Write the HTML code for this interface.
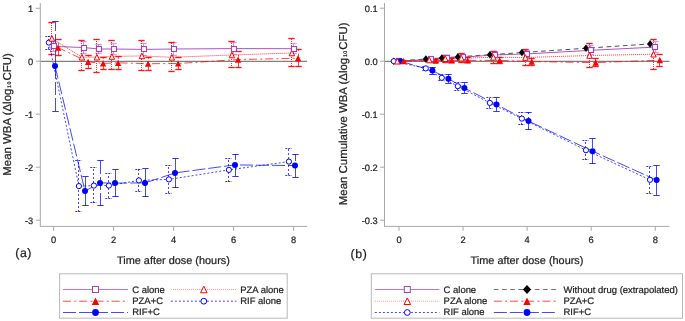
<!DOCTYPE html>
<html><head><meta charset="utf-8"><title>WBA chart</title>
<style>html,body{margin:0;padding:0;background:#fff;width:685px;height:321px;overflow:hidden}svg{display:block;will-change:transform}text{stroke:#1e1e1e;stroke-width:.22px}</style>
</head><body>
<svg width="685" height="321" viewBox="0 0 685 321" text-rendering="geometricPrecision" font-family='"Liberation Sans", sans-serif'>
<rect width="685" height="321" fill="#fff"/>
<line x1="40.3" y1="61.3" x2="307" y2="61.3" stroke="#808080" stroke-width="1.3"/>
<line x1="53.5" y1="51" x2="53.5" y2="41" stroke="#a044b8" stroke-width="1" stroke-opacity="0.5"/>
<line x1="50.3" y1="41.5" x2="56.7" y2="41.5" stroke="#a044b8" stroke-width="1.35" stroke-opacity="0.5"/>
<line x1="50.3" y1="51.5" x2="56.7" y2="51.5" stroke="#a044b8" stroke-width="1.35" stroke-opacity="0.5"/>
<line x1="83.5" y1="54" x2="83.5" y2="42" stroke="#a044b8" stroke-width="1" stroke-opacity="0.5"/>
<line x1="80.3" y1="41.5" x2="86.7" y2="41.5" stroke="#a044b8" stroke-width="1.35" stroke-opacity="0.5"/>
<line x1="80.3" y1="53.5" x2="86.7" y2="53.5" stroke="#a044b8" stroke-width="1.35" stroke-opacity="0.5"/>
<line x1="98.5" y1="54" x2="98.5" y2="44" stroke="#a044b8" stroke-width="1" stroke-opacity="0.5"/>
<line x1="95.3" y1="44.5" x2="101.7" y2="44.5" stroke="#a044b8" stroke-width="1.35" stroke-opacity="0.5"/>
<line x1="95.3" y1="53.5" x2="101.7" y2="53.5" stroke="#a044b8" stroke-width="1.35" stroke-opacity="0.5"/>
<line x1="113.5" y1="54" x2="113.5" y2="44" stroke="#a044b8" stroke-width="1" stroke-opacity="0.5"/>
<line x1="110.3" y1="43.5" x2="116.7" y2="43.5" stroke="#a044b8" stroke-width="1.35" stroke-opacity="0.5"/>
<line x1="110.3" y1="54.5" x2="116.7" y2="54.5" stroke="#a044b8" stroke-width="1.35" stroke-opacity="0.5"/>
<line x1="143.5" y1="55" x2="143.5" y2="44" stroke="#a044b8" stroke-width="1" stroke-opacity="0.5"/>
<line x1="140.3" y1="43.5" x2="146.7" y2="43.5" stroke="#a044b8" stroke-width="1.35" stroke-opacity="0.5"/>
<line x1="140.3" y1="55.5" x2="146.7" y2="55.5" stroke="#a044b8" stroke-width="1.35" stroke-opacity="0.5"/>
<line x1="173.5" y1="56" x2="173.5" y2="42" stroke="#a044b8" stroke-width="1" stroke-opacity="0.5"/>
<line x1="170.3" y1="42.5" x2="176.7" y2="42.5" stroke="#a044b8" stroke-width="1.35" stroke-opacity="0.5"/>
<line x1="170.3" y1="55.5" x2="176.7" y2="55.5" stroke="#a044b8" stroke-width="1.35" stroke-opacity="0.5"/>
<line x1="233.5" y1="54" x2="233.5" y2="43" stroke="#a044b8" stroke-width="1" stroke-opacity="0.5"/>
<line x1="230.3" y1="42.5" x2="236.7" y2="42.5" stroke="#a044b8" stroke-width="1.35" stroke-opacity="0.5"/>
<line x1="230.3" y1="54.5" x2="236.7" y2="54.5" stroke="#a044b8" stroke-width="1.35" stroke-opacity="0.5"/>
<line x1="293.5" y1="54" x2="293.5" y2="44" stroke="#a044b8" stroke-width="1" stroke-opacity="0.5"/>
<line x1="290.3" y1="43.5" x2="296.7" y2="43.5" stroke="#a044b8" stroke-width="1.35" stroke-opacity="0.5"/>
<line x1="290.3" y1="53.5" x2="296.7" y2="53.5" stroke="#a044b8" stroke-width="1.35" stroke-opacity="0.5"/>
<polyline points="53.6,46.4 83.6,47.5 98.6,49 113.6,49 143.6,49.4 173.6,49 233.6,48.6 293.6,48.7" fill="none" stroke="#a044b8" stroke-width="1" stroke-opacity="0.9"/>
<line x1="51.5" y1="54" x2="51.5" y2="23" stroke="#ff0000" stroke-width="1" stroke-dasharray="1 1" stroke-opacity="0.8"/>
<line x1="48.3" y1="22.5" x2="54.7" y2="22.5" stroke="#ff0000" stroke-width="1.35" stroke-opacity="0.9"/>
<line x1="48.3" y1="54.5" x2="54.7" y2="54.5" stroke="#ff0000" stroke-width="1.35" stroke-opacity="0.9"/>
<line x1="81.5" y1="70" x2="81.5" y2="41" stroke="#ff0000" stroke-width="1" stroke-dasharray="1 1" stroke-opacity="0.8"/>
<line x1="78.3" y1="40.5" x2="84.7" y2="40.5" stroke="#ff0000" stroke-width="1.35" stroke-opacity="0.9"/>
<line x1="78.3" y1="70.5" x2="84.7" y2="70.5" stroke="#ff0000" stroke-width="1.35" stroke-opacity="0.9"/>
<line x1="96.5" y1="72" x2="96.5" y2="39" stroke="#ff0000" stroke-width="1" stroke-dasharray="1 1" stroke-opacity="0.8"/>
<line x1="93.3" y1="39.5" x2="99.7" y2="39.5" stroke="#ff0000" stroke-width="1.35" stroke-opacity="0.9"/>
<line x1="93.3" y1="72.5" x2="99.7" y2="72.5" stroke="#ff0000" stroke-width="1.35" stroke-opacity="0.9"/>
<line x1="111.5" y1="69" x2="111.5" y2="41" stroke="#ff0000" stroke-width="1" stroke-dasharray="1 1" stroke-opacity="0.8"/>
<line x1="108.3" y1="40.5" x2="114.7" y2="40.5" stroke="#ff0000" stroke-width="1.35" stroke-opacity="0.9"/>
<line x1="108.3" y1="69.5" x2="114.7" y2="69.5" stroke="#ff0000" stroke-width="1.35" stroke-opacity="0.9"/>
<line x1="141.5" y1="70" x2="141.5" y2="41" stroke="#ff0000" stroke-width="1" stroke-dasharray="1 1" stroke-opacity="0.8"/>
<line x1="138.3" y1="40.5" x2="144.7" y2="40.5" stroke="#ff0000" stroke-width="1.35" stroke-opacity="0.9"/>
<line x1="138.3" y1="70.5" x2="144.7" y2="70.5" stroke="#ff0000" stroke-width="1.35" stroke-opacity="0.9"/>
<line x1="171.5" y1="72" x2="171.5" y2="42" stroke="#ff0000" stroke-width="1" stroke-dasharray="1 1" stroke-opacity="0.8"/>
<line x1="168.3" y1="42.5" x2="174.7" y2="42.5" stroke="#ff0000" stroke-width="1.35" stroke-opacity="0.9"/>
<line x1="168.3" y1="71.5" x2="174.7" y2="71.5" stroke="#ff0000" stroke-width="1.35" stroke-opacity="0.9"/>
<line x1="231.5" y1="68" x2="231.5" y2="41" stroke="#ff0000" stroke-width="1" stroke-dasharray="1 1" stroke-opacity="0.8"/>
<line x1="228.3" y1="41.5" x2="234.7" y2="41.5" stroke="#ff0000" stroke-width="1.35" stroke-opacity="0.9"/>
<line x1="228.3" y1="67.5" x2="234.7" y2="67.5" stroke="#ff0000" stroke-width="1.35" stroke-opacity="0.9"/>
<line x1="291.5" y1="66" x2="291.5" y2="39" stroke="#ff0000" stroke-width="1" stroke-dasharray="1 1" stroke-opacity="0.8"/>
<line x1="288.3" y1="38.5" x2="294.7" y2="38.5" stroke="#ff0000" stroke-width="1.35" stroke-opacity="0.9"/>
<line x1="288.3" y1="66.5" x2="294.7" y2="66.5" stroke="#ff0000" stroke-width="1.35" stroke-opacity="0.9"/>
<polyline points="51.9,38.4 81.9,57.2 96.9,57.2 111.9,56.5 141.9,55.9 171.9,57.3 231.9,55 291.9,53" fill="none" stroke="#ff0000" stroke-width="1" stroke-dasharray="1 1" stroke-opacity="0.8"/>
<line x1="58.5" y1="56" x2="58.5" y2="40" stroke="#ff0000" stroke-width="1" stroke-dasharray="8 3.3 2 2.9" stroke-opacity="0.72"/>
<line x1="55.3" y1="39.5" x2="61.7" y2="39.5" stroke="#ff0000" stroke-width="1.35" stroke-opacity="0.9"/>
<line x1="55.3" y1="55.5" x2="61.7" y2="55.5" stroke="#ff0000" stroke-width="1.35" stroke-opacity="0.9"/>
<line x1="88.5" y1="68" x2="88.5" y2="55" stroke="#ff0000" stroke-width="1" stroke-dasharray="8 3.3 2 2.9" stroke-opacity="0.72"/>
<line x1="85.3" y1="55.5" x2="91.7" y2="55.5" stroke="#ff0000" stroke-width="1.35" stroke-opacity="0.9"/>
<line x1="85.3" y1="68.5" x2="91.7" y2="68.5" stroke="#ff0000" stroke-width="1.35" stroke-opacity="0.9"/>
<line x1="103.5" y1="70" x2="103.5" y2="57" stroke="#ff0000" stroke-width="1" stroke-dasharray="8 3.3 2 2.9" stroke-opacity="0.72"/>
<line x1="100.3" y1="57.5" x2="106.7" y2="57.5" stroke="#ff0000" stroke-width="1.35" stroke-opacity="0.9"/>
<line x1="100.3" y1="69.5" x2="106.7" y2="69.5" stroke="#ff0000" stroke-width="1.35" stroke-opacity="0.9"/>
<line x1="118.5" y1="70" x2="118.5" y2="56" stroke="#ff0000" stroke-width="1" stroke-dasharray="8 3.3 2 2.9" stroke-opacity="0.72"/>
<line x1="115.3" y1="56.5" x2="121.7" y2="56.5" stroke="#ff0000" stroke-width="1.35" stroke-opacity="0.9"/>
<line x1="115.3" y1="69.5" x2="121.7" y2="69.5" stroke="#ff0000" stroke-width="1.35" stroke-opacity="0.9"/>
<line x1="148.5" y1="70" x2="148.5" y2="57" stroke="#ff0000" stroke-width="1" stroke-dasharray="8 3.3 2 2.9" stroke-opacity="0.72"/>
<line x1="145.3" y1="57.5" x2="151.7" y2="57.5" stroke="#ff0000" stroke-width="1.35" stroke-opacity="0.9"/>
<line x1="145.3" y1="70.5" x2="151.7" y2="70.5" stroke="#ff0000" stroke-width="1.35" stroke-opacity="0.9"/>
<line x1="178.5" y1="69" x2="178.5" y2="58" stroke="#ff0000" stroke-width="1" stroke-dasharray="8 3.3 2 2.9" stroke-opacity="0.72"/>
<line x1="175.3" y1="57.5" x2="181.7" y2="57.5" stroke="#ff0000" stroke-width="1.35" stroke-opacity="0.9"/>
<line x1="175.3" y1="69.5" x2="181.7" y2="69.5" stroke="#ff0000" stroke-width="1.35" stroke-opacity="0.9"/>
<line x1="238.5" y1="68" x2="238.5" y2="52" stroke="#ff0000" stroke-width="1" stroke-dasharray="8 3.3 2 2.9" stroke-opacity="0.72"/>
<line x1="235.3" y1="51.5" x2="241.7" y2="51.5" stroke="#ff0000" stroke-width="1.35" stroke-opacity="0.9"/>
<line x1="235.3" y1="67.5" x2="241.7" y2="67.5" stroke="#ff0000" stroke-width="1.35" stroke-opacity="0.9"/>
<line x1="298.5" y1="67" x2="298.5" y2="50" stroke="#ff0000" stroke-width="1" stroke-dasharray="8 3.3 2 2.9" stroke-opacity="0.72"/>
<line x1="295.3" y1="49.5" x2="301.7" y2="49.5" stroke="#ff0000" stroke-width="1.35" stroke-opacity="0.9"/>
<line x1="295.3" y1="66.5" x2="301.7" y2="66.5" stroke="#ff0000" stroke-width="1.35" stroke-opacity="0.9"/>
<polyline points="58.1,47.6 88.1,61.9 103.1,63.4 118.1,62.8 148.1,63.7 178.1,63.5 238.1,59.6 298.1,58.2" fill="none" stroke="#ff0000" stroke-width="1" stroke-dasharray="8 3.3 2 2.9" stroke-opacity="0.72"/>
<line x1="48.5" y1="49" x2="48.5" y2="36" stroke="#0000ff" stroke-width="1" stroke-dasharray="2 2" stroke-opacity="0.72"/>
<line x1="45.3" y1="36.5" x2="51.7" y2="36.5" stroke="#0000ff" stroke-width="1.0" stroke-dasharray="2 1" stroke-opacity="0.8"/>
<line x1="45.3" y1="49.5" x2="51.7" y2="49.5" stroke="#0000ff" stroke-width="1.0" stroke-dasharray="2 1" stroke-opacity="0.8"/>
<line x1="78.5" y1="212" x2="78.5" y2="160" stroke="#0000ff" stroke-width="1" stroke-dasharray="2 2" stroke-opacity="0.72"/>
<line x1="75.3" y1="160.5" x2="81.7" y2="160.5" stroke="#0000ff" stroke-width="1.0" stroke-dasharray="2 1" stroke-opacity="0.8"/>
<line x1="75.3" y1="211.5" x2="81.7" y2="211.5" stroke="#0000ff" stroke-width="1.0" stroke-dasharray="2 1" stroke-opacity="0.8"/>
<line x1="93.5" y1="203" x2="93.5" y2="168" stroke="#0000ff" stroke-width="1" stroke-dasharray="2 2" stroke-opacity="0.72"/>
<line x1="90.3" y1="167.5" x2="96.7" y2="167.5" stroke="#0000ff" stroke-width="1.0" stroke-dasharray="2 1" stroke-opacity="0.8"/>
<line x1="90.3" y1="202.5" x2="96.7" y2="202.5" stroke="#0000ff" stroke-width="1.0" stroke-dasharray="2 1" stroke-opacity="0.8"/>
<line x1="108.5" y1="198" x2="108.5" y2="174" stroke="#0000ff" stroke-width="1" stroke-dasharray="2 2" stroke-opacity="0.72"/>
<line x1="105.3" y1="173.5" x2="111.7" y2="173.5" stroke="#0000ff" stroke-width="1.0" stroke-dasharray="2 1" stroke-opacity="0.8"/>
<line x1="105.3" y1="198.5" x2="111.7" y2="198.5" stroke="#0000ff" stroke-width="1.0" stroke-dasharray="2 1" stroke-opacity="0.8"/>
<line x1="138.5" y1="191" x2="138.5" y2="169" stroke="#0000ff" stroke-width="1" stroke-dasharray="2 2" stroke-opacity="0.72"/>
<line x1="135.3" y1="169.5" x2="141.7" y2="169.5" stroke="#0000ff" stroke-width="1.0" stroke-dasharray="2 1" stroke-opacity="0.8"/>
<line x1="135.3" y1="191.5" x2="141.7" y2="191.5" stroke="#0000ff" stroke-width="1.0" stroke-dasharray="2 1" stroke-opacity="0.8"/>
<line x1="168.5" y1="193" x2="168.5" y2="166" stroke="#0000ff" stroke-width="1" stroke-dasharray="2 2" stroke-opacity="0.72"/>
<line x1="165.3" y1="165.5" x2="171.7" y2="165.5" stroke="#0000ff" stroke-width="1.0" stroke-dasharray="2 1" stroke-opacity="0.8"/>
<line x1="165.3" y1="193.5" x2="171.7" y2="193.5" stroke="#0000ff" stroke-width="1.0" stroke-dasharray="2 1" stroke-opacity="0.8"/>
<line x1="228.5" y1="182" x2="228.5" y2="159" stroke="#0000ff" stroke-width="1" stroke-dasharray="2 2" stroke-opacity="0.72"/>
<line x1="225.3" y1="158.5" x2="231.7" y2="158.5" stroke="#0000ff" stroke-width="1.0" stroke-dasharray="2 1" stroke-opacity="0.8"/>
<line x1="225.3" y1="181.5" x2="231.7" y2="181.5" stroke="#0000ff" stroke-width="1.0" stroke-dasharray="2 1" stroke-opacity="0.8"/>
<line x1="288.5" y1="175" x2="288.5" y2="148" stroke="#0000ff" stroke-width="1" stroke-dasharray="2 2" stroke-opacity="0.72"/>
<line x1="285.3" y1="148.5" x2="291.7" y2="148.5" stroke="#0000ff" stroke-width="1.0" stroke-dasharray="2 1" stroke-opacity="0.8"/>
<line x1="285.3" y1="175.5" x2="291.7" y2="175.5" stroke="#0000ff" stroke-width="1.0" stroke-dasharray="2 1" stroke-opacity="0.8"/>
<polyline points="48.9,42.6 78.9,186.1 93.9,185.6 108.9,185.6 138.9,180.4 168.9,179.4 228.9,169.9 288.9,161.6" fill="none" stroke="#0000ff" stroke-width="1" stroke-dasharray="2 2" stroke-opacity="0.72"/>
<line x1="55.5" y1="111" x2="55.5" y2="22" stroke="#0000ff" stroke-width="1" stroke-dasharray="13 3" stroke-opacity="0.72"/>
<line x1="52.3" y1="21.5" x2="58.7" y2="21.5" stroke="#0000ff" stroke-width="1.0" stroke-opacity="0.8"/>
<line x1="52.3" y1="111.5" x2="58.7" y2="111.5" stroke="#0000ff" stroke-width="1.0" stroke-opacity="0.8"/>
<line x1="85.5" y1="206" x2="85.5" y2="177" stroke="#0000ff" stroke-width="1" stroke-dasharray="13 3" stroke-opacity="0.72"/>
<line x1="82.3" y1="176.5" x2="88.7" y2="176.5" stroke="#0000ff" stroke-width="1.0" stroke-opacity="0.8"/>
<line x1="82.3" y1="205.5" x2="88.7" y2="205.5" stroke="#0000ff" stroke-width="1.0" stroke-opacity="0.8"/>
<line x1="100.5" y1="206" x2="100.5" y2="160" stroke="#0000ff" stroke-width="1" stroke-dasharray="13 3" stroke-opacity="0.72"/>
<line x1="97.3" y1="160.5" x2="103.7" y2="160.5" stroke="#0000ff" stroke-width="1.0" stroke-opacity="0.8"/>
<line x1="97.3" y1="205.5" x2="103.7" y2="205.5" stroke="#0000ff" stroke-width="1.0" stroke-opacity="0.8"/>
<line x1="115.5" y1="197" x2="115.5" y2="170" stroke="#0000ff" stroke-width="1" stroke-dasharray="13 3" stroke-opacity="0.72"/>
<line x1="112.3" y1="169.5" x2="118.7" y2="169.5" stroke="#0000ff" stroke-width="1.0" stroke-opacity="0.8"/>
<line x1="112.3" y1="196.5" x2="118.7" y2="196.5" stroke="#0000ff" stroke-width="1.0" stroke-opacity="0.8"/>
<line x1="145.5" y1="197" x2="145.5" y2="169" stroke="#0000ff" stroke-width="1" stroke-dasharray="13 3" stroke-opacity="0.72"/>
<line x1="142.3" y1="168.5" x2="148.7" y2="168.5" stroke="#0000ff" stroke-width="1.0" stroke-opacity="0.8"/>
<line x1="142.3" y1="196.5" x2="148.7" y2="196.5" stroke="#0000ff" stroke-width="1.0" stroke-opacity="0.8"/>
<line x1="175.5" y1="188" x2="175.5" y2="158" stroke="#0000ff" stroke-width="1" stroke-dasharray="13 3" stroke-opacity="0.72"/>
<line x1="172.3" y1="158.5" x2="178.7" y2="158.5" stroke="#0000ff" stroke-width="1.0" stroke-opacity="0.8"/>
<line x1="172.3" y1="187.5" x2="178.7" y2="187.5" stroke="#0000ff" stroke-width="1.0" stroke-opacity="0.8"/>
<line x1="235.5" y1="176" x2="235.5" y2="154" stroke="#0000ff" stroke-width="1" stroke-dasharray="13 3" stroke-opacity="0.72"/>
<line x1="232.3" y1="154.5" x2="238.7" y2="154.5" stroke="#0000ff" stroke-width="1.0" stroke-opacity="0.8"/>
<line x1="232.3" y1="176.5" x2="238.7" y2="176.5" stroke="#0000ff" stroke-width="1.0" stroke-opacity="0.8"/>
<line x1="295.5" y1="177" x2="295.5" y2="154" stroke="#0000ff" stroke-width="1" stroke-dasharray="13 3" stroke-opacity="0.72"/>
<line x1="292.3" y1="154.5" x2="298.7" y2="154.5" stroke="#0000ff" stroke-width="1.0" stroke-opacity="0.8"/>
<line x1="292.3" y1="177.5" x2="298.7" y2="177.5" stroke="#0000ff" stroke-width="1.0" stroke-opacity="0.8"/>
<polyline points="55,65.9 85,191.1 100,182.9 115,183.1 145,182.9 175,172.9 235,164.9 295,165.6" fill="none" stroke="#0000ff" stroke-width="1" stroke-dasharray="13 3" stroke-opacity="0.72"/>
<circle cx="48.9" cy="42.6" r="2.6" fill="#fff" stroke="#0000ff" stroke-width="1"/>
<circle cx="78.9" cy="186.1" r="2.6" fill="#fff" stroke="#0000ff" stroke-width="1"/>
<circle cx="93.9" cy="185.6" r="2.6" fill="#fff" stroke="#0000ff" stroke-width="1"/>
<circle cx="108.9" cy="185.6" r="2.6" fill="#fff" stroke="#0000ff" stroke-width="1"/>
<circle cx="138.9" cy="180.4" r="2.6" fill="#fff" stroke="#0000ff" stroke-width="1"/>
<circle cx="168.9" cy="179.4" r="2.6" fill="#fff" stroke="#0000ff" stroke-width="1"/>
<circle cx="228.9" cy="169.9" r="2.6" fill="#fff" stroke="#0000ff" stroke-width="1"/>
<circle cx="288.9" cy="161.6" r="2.6" fill="#fff" stroke="#0000ff" stroke-width="1"/>
<polygon points="51.9,35.6 54.6,41.2 49.2,41.2" fill="#fff" stroke="#ff0000" stroke-width="1"/>
<polygon points="81.9,54.4 84.6,60 79.2,60" fill="#fff" stroke="#ff0000" stroke-width="1"/>
<polygon points="96.9,54.4 99.6,60 94.2,60" fill="#fff" stroke="#ff0000" stroke-width="1"/>
<polygon points="111.9,53.7 114.6,59.3 109.2,59.3" fill="#fff" stroke="#ff0000" stroke-width="1"/>
<polygon points="141.9,53.1 144.6,58.7 139.2,58.7" fill="#fff" stroke="#ff0000" stroke-width="1"/>
<polygon points="171.9,54.5 174.6,60.1 169.2,60.1" fill="#fff" stroke="#ff0000" stroke-width="1"/>
<polygon points="231.9,52.2 234.6,57.8 229.2,57.8" fill="#fff" stroke="#ff0000" stroke-width="1"/>
<polygon points="291.9,50.2 294.6,55.8 289.2,55.8" fill="#fff" stroke="#ff0000" stroke-width="1"/>
<rect x="51.5" y="43.5" width="5" height="5" fill="#fff" stroke="#a044b8" stroke-width="1.15"/>
<rect x="81.5" y="45.5" width="5" height="5" fill="#fff" stroke="#a044b8" stroke-width="1.15"/>
<rect x="96.5" y="46.5" width="5" height="5" fill="#fff" stroke="#a044b8" stroke-width="1.15"/>
<rect x="111.5" y="46.5" width="5" height="5" fill="#fff" stroke="#a044b8" stroke-width="1.15"/>
<rect x="141.5" y="46.5" width="5" height="5" fill="#fff" stroke="#a044b8" stroke-width="1.15"/>
<rect x="171.5" y="46.5" width="5" height="5" fill="#fff" stroke="#a044b8" stroke-width="1.15"/>
<rect x="231.5" y="46.5" width="5" height="5" fill="#fff" stroke="#a044b8" stroke-width="1.15"/>
<rect x="291.5" y="46.5" width="5" height="5" fill="#fff" stroke="#a044b8" stroke-width="1.15"/>
<circle cx="55" cy="65.9" r="3.0" fill="#0000ff"/>
<circle cx="85" cy="191.1" r="3.0" fill="#0000ff"/>
<circle cx="100" cy="182.9" r="3.0" fill="#0000ff"/>
<circle cx="115" cy="183.1" r="3.0" fill="#0000ff"/>
<circle cx="145" cy="182.9" r="3.0" fill="#0000ff"/>
<circle cx="175" cy="172.9" r="3.0" fill="#0000ff"/>
<circle cx="235" cy="164.9" r="3.0" fill="#0000ff"/>
<circle cx="295" cy="165.6" r="3.0" fill="#0000ff"/>
<polygon points="58.1,44.5 61.3,50.7 54.9,50.7" fill="#ff0000"/>
<polygon points="88.1,58.8 91.3,65 84.9,65" fill="#ff0000"/>
<polygon points="103.1,60.3 106.3,66.5 99.9,66.5" fill="#ff0000"/>
<polygon points="118.1,59.7 121.3,65.9 114.9,65.9" fill="#ff0000"/>
<polygon points="148.1,60.6 151.3,66.8 144.9,66.8" fill="#ff0000"/>
<polygon points="178.1,60.4 181.3,66.6 174.9,66.6" fill="#ff0000"/>
<polygon points="238.1,56.5 241.3,62.7 234.9,62.7" fill="#ff0000"/>
<polygon points="298.1,55.1 301.3,61.3 294.9,61.3" fill="#ff0000"/>
<line x1="40.3" y1="3" x2="40.3" y2="226.4" stroke="#a9a9a9" stroke-width="1"/>
<line x1="39.8" y1="226.4" x2="307.1" y2="226.4" stroke="#a9a9a9" stroke-width="1"/>
<line x1="35.8" y1="8.3" x2="40.3" y2="8.3" stroke="#a9a9a9" stroke-width="1"/>
<text x="33.2" y="11.7" font-size="9.3" text-anchor="end" fill="#1e1e1e">1</text>
<line x1="35.8" y1="61.2" x2="40.3" y2="61.2" stroke="#a9a9a9" stroke-width="1"/>
<text x="33.2" y="64.6" font-size="9.3" text-anchor="end" fill="#1e1e1e">0</text>
<line x1="35.8" y1="114.2" x2="40.3" y2="114.2" stroke="#a9a9a9" stroke-width="1"/>
<text x="33.2" y="117.6" font-size="9.3" text-anchor="end" fill="#1e1e1e">-1</text>
<line x1="35.8" y1="167.2" x2="40.3" y2="167.2" stroke="#a9a9a9" stroke-width="1"/>
<text x="33.2" y="170.6" font-size="9.3" text-anchor="end" fill="#1e1e1e">-2</text>
<line x1="35.8" y1="220.2" x2="40.3" y2="220.2" stroke="#a9a9a9" stroke-width="1"/>
<text x="33.2" y="223.6" font-size="9.3" text-anchor="end" fill="#1e1e1e">-3</text>
<line x1="53.6" y1="226.4" x2="53.6" y2="230.8" stroke="#a9a9a9" stroke-width="1"/>
<text x="53.6" y="243.1" font-size="9.3" text-anchor="middle" fill="#1e1e1e">0</text>
<line x1="113.6" y1="226.4" x2="113.6" y2="230.8" stroke="#a9a9a9" stroke-width="1"/>
<text x="113.6" y="243.1" font-size="9.3" text-anchor="middle" fill="#1e1e1e">2</text>
<line x1="173.6" y1="226.4" x2="173.6" y2="230.8" stroke="#a9a9a9" stroke-width="1"/>
<text x="173.6" y="243.1" font-size="9.3" text-anchor="middle" fill="#1e1e1e">4</text>
<line x1="233.6" y1="226.4" x2="233.6" y2="230.8" stroke="#a9a9a9" stroke-width="1"/>
<text x="233.6" y="243.1" font-size="9.3" text-anchor="middle" fill="#1e1e1e">6</text>
<line x1="293.6" y1="226.4" x2="293.6" y2="230.8" stroke="#a9a9a9" stroke-width="1"/>
<text x="293.6" y="243.1" font-size="9.3" text-anchor="middle" fill="#1e1e1e">8</text>
<text x="173.45" y="263.7" font-size="10.9" text-anchor="middle" fill="#1e1e1e">Time after dose (hours)</text>
<text x="15.2" y="257.1" font-size="12.3" text-anchor="start" fill="#1e1e1e" letter-spacing="0.6">(a)</text>
<text transform="translate(11.1,114.45) rotate(-90)" font-size="11.45" text-anchor="middle" fill="#1e1e1e">Mean WBA (&#916;log<tspan font-size="5.3" dx="0.7" dy="-0.4" letter-spacing="0.5">10</tspan><tspan dx="0.5" dy="0.4">CFU)</tspan></text>
<line x1="384.5" y1="61.3" x2="669.5" y2="61.3" stroke="#808080" stroke-width="1.3"/>
<polyline points="393.8,61.2 425.83,59.04 441.85,57.96 457.86,56.88 489.89,54.72 521.92,52.56 585.98,48.24 650.04,43.92" fill="none" stroke="#3c3c3c" stroke-width="1" stroke-dasharray="4.7 3.5" stroke-opacity="0.9"/>
<line x1="430.5" y1="61" x2="430.5" y2="58" stroke="#a044b8" stroke-width="1" stroke-opacity="0.5"/>
<line x1="427.3" y1="57.5" x2="433.7" y2="57.5" stroke="#a044b8" stroke-width="1.35" stroke-opacity="0.5"/>
<line x1="427.3" y1="60.5" x2="433.7" y2="60.5" stroke="#a044b8" stroke-width="1.35" stroke-opacity="0.5"/>
<line x1="446.5" y1="60" x2="446.5" y2="56" stroke="#a044b8" stroke-width="1" stroke-opacity="0.5"/>
<line x1="443.3" y1="55.5" x2="449.7" y2="55.5" stroke="#a044b8" stroke-width="1.35" stroke-opacity="0.5"/>
<line x1="443.3" y1="59.5" x2="449.7" y2="59.5" stroke="#a044b8" stroke-width="1.35" stroke-opacity="0.5"/>
<line x1="462.5" y1="60" x2="462.5" y2="55" stroke="#a044b8" stroke-width="1" stroke-opacity="0.5"/>
<line x1="459.3" y1="54.5" x2="465.7" y2="54.5" stroke="#a044b8" stroke-width="1.35" stroke-opacity="0.5"/>
<line x1="459.3" y1="59.5" x2="465.7" y2="59.5" stroke="#a044b8" stroke-width="1.35" stroke-opacity="0.5"/>
<line x1="494.5" y1="58" x2="494.5" y2="52" stroke="#a044b8" stroke-width="1" stroke-opacity="0.5"/>
<line x1="491.3" y1="51.5" x2="497.7" y2="51.5" stroke="#a044b8" stroke-width="1.35" stroke-opacity="0.5"/>
<line x1="491.3" y1="57.5" x2="497.7" y2="57.5" stroke="#a044b8" stroke-width="1.35" stroke-opacity="0.5"/>
<line x1="526.5" y1="57" x2="526.5" y2="50" stroke="#a044b8" stroke-width="1" stroke-opacity="0.5"/>
<line x1="523.3" y1="50.5" x2="529.7" y2="50.5" stroke="#a044b8" stroke-width="1.35" stroke-opacity="0.5"/>
<line x1="523.3" y1="57.5" x2="529.7" y2="57.5" stroke="#a044b8" stroke-width="1.35" stroke-opacity="0.5"/>
<line x1="590.5" y1="55" x2="590.5" y2="46" stroke="#a044b8" stroke-width="1" stroke-opacity="0.5"/>
<line x1="587.3" y1="45.5" x2="593.7" y2="45.5" stroke="#a044b8" stroke-width="1.35" stroke-opacity="0.5"/>
<line x1="587.3" y1="54.5" x2="593.7" y2="54.5" stroke="#a044b8" stroke-width="1.35" stroke-opacity="0.5"/>
<line x1="655.5" y1="52" x2="655.5" y2="42" stroke="#a044b8" stroke-width="1" stroke-opacity="0.5"/>
<line x1="652.3" y1="41.5" x2="658.7" y2="41.5" stroke="#a044b8" stroke-width="1.35" stroke-opacity="0.5"/>
<line x1="652.3" y1="52.5" x2="658.7" y2="52.5" stroke="#a044b8" stroke-width="1.35" stroke-opacity="0.5"/>
<polyline points="398.8,61.2 430.83,59.4 446.85,57.5 462.86,57.2 494.89,54.9 526.92,53.9 590.98,50.3 655.04,47.1" fill="none" stroke="#a044b8" stroke-width="1" stroke-opacity="0.9"/>
<line x1="429.5" y1="62" x2="429.5" y2="58" stroke="#ff0000" stroke-width="1" stroke-dasharray="1 1" stroke-opacity="0.8"/>
<line x1="426.3" y1="58.5" x2="432.7" y2="58.5" stroke="#ff0000" stroke-width="1.35" stroke-opacity="0.9"/>
<line x1="426.3" y1="61.5" x2="432.7" y2="61.5" stroke="#ff0000" stroke-width="1.35" stroke-opacity="0.9"/>
<line x1="445.5" y1="62" x2="445.5" y2="55" stroke="#ff0000" stroke-width="1" stroke-dasharray="1 1" stroke-opacity="0.8"/>
<line x1="442.3" y1="55.5" x2="448.7" y2="55.5" stroke="#ff0000" stroke-width="1.35" stroke-opacity="0.9"/>
<line x1="442.3" y1="62.5" x2="448.7" y2="62.5" stroke="#ff0000" stroke-width="1.35" stroke-opacity="0.9"/>
<line x1="461.5" y1="63" x2="461.5" y2="54" stroke="#ff0000" stroke-width="1" stroke-dasharray="1 1" stroke-opacity="0.8"/>
<line x1="458.3" y1="53.5" x2="464.7" y2="53.5" stroke="#ff0000" stroke-width="1.35" stroke-opacity="0.9"/>
<line x1="458.3" y1="62.5" x2="464.7" y2="62.5" stroke="#ff0000" stroke-width="1.35" stroke-opacity="0.9"/>
<line x1="493.5" y1="63" x2="493.5" y2="51" stroke="#ff0000" stroke-width="1" stroke-dasharray="1 1" stroke-opacity="0.8"/>
<line x1="490.3" y1="51.5" x2="496.7" y2="51.5" stroke="#ff0000" stroke-width="1.35" stroke-opacity="0.9"/>
<line x1="490.3" y1="63.5" x2="496.7" y2="63.5" stroke="#ff0000" stroke-width="1.35" stroke-opacity="0.9"/>
<line x1="525.5" y1="65" x2="525.5" y2="50" stroke="#ff0000" stroke-width="1" stroke-dasharray="1 1" stroke-opacity="0.8"/>
<line x1="522.3" y1="49.5" x2="528.7" y2="49.5" stroke="#ff0000" stroke-width="1.35" stroke-opacity="0.9"/>
<line x1="522.3" y1="65.5" x2="528.7" y2="65.5" stroke="#ff0000" stroke-width="1.35" stroke-opacity="0.9"/>
<line x1="589.5" y1="67" x2="589.5" y2="44" stroke="#ff0000" stroke-width="1" stroke-dasharray="1 1" stroke-opacity="0.8"/>
<line x1="586.3" y1="43.5" x2="592.7" y2="43.5" stroke="#ff0000" stroke-width="1.35" stroke-opacity="0.9"/>
<line x1="586.3" y1="67.5" x2="592.7" y2="67.5" stroke="#ff0000" stroke-width="1.35" stroke-opacity="0.9"/>
<line x1="653.5" y1="69" x2="653.5" y2="39" stroke="#ff0000" stroke-width="1" stroke-dasharray="1 1" stroke-opacity="0.8"/>
<line x1="650.3" y1="39.5" x2="656.7" y2="39.5" stroke="#ff0000" stroke-width="1.35" stroke-opacity="0.9"/>
<line x1="650.3" y1="69.5" x2="656.7" y2="69.5" stroke="#ff0000" stroke-width="1.35" stroke-opacity="0.9"/>
<polyline points="397.3,61.2 429.33,60 445.35,58.7 461.36,58.2 493.39,57.3 525.42,57.5 589.48,55.5 653.54,54.2" fill="none" stroke="#ff0000" stroke-width="1" stroke-dasharray="1 1" stroke-opacity="0.8"/>
<line x1="435.5" y1="62" x2="435.5" y2="59" stroke="#ff0000" stroke-width="1" stroke-dasharray="8 3.3 2 2.9" stroke-opacity="0.72"/>
<line x1="432.3" y1="59.5" x2="438.7" y2="59.5" stroke="#ff0000" stroke-width="1.35" stroke-opacity="0.9"/>
<line x1="432.3" y1="62.5" x2="438.7" y2="62.5" stroke="#ff0000" stroke-width="1.35" stroke-opacity="0.9"/>
<line x1="451.5" y1="62" x2="451.5" y2="58" stroke="#ff0000" stroke-width="1" stroke-dasharray="8 3.3 2 2.9" stroke-opacity="0.72"/>
<line x1="448.3" y1="58.5" x2="454.7" y2="58.5" stroke="#ff0000" stroke-width="1.35" stroke-opacity="0.9"/>
<line x1="448.3" y1="62.5" x2="454.7" y2="62.5" stroke="#ff0000" stroke-width="1.35" stroke-opacity="0.9"/>
<line x1="467.5" y1="63" x2="467.5" y2="58" stroke="#ff0000" stroke-width="1" stroke-dasharray="8 3.3 2 2.9" stroke-opacity="0.72"/>
<line x1="464.3" y1="57.5" x2="470.7" y2="57.5" stroke="#ff0000" stroke-width="1.35" stroke-opacity="0.9"/>
<line x1="464.3" y1="62.5" x2="470.7" y2="62.5" stroke="#ff0000" stroke-width="1.35" stroke-opacity="0.9"/>
<line x1="499.5" y1="63" x2="499.5" y2="57" stroke="#ff0000" stroke-width="1" stroke-dasharray="8 3.3 2 2.9" stroke-opacity="0.72"/>
<line x1="496.3" y1="57.5" x2="502.7" y2="57.5" stroke="#ff0000" stroke-width="1.35" stroke-opacity="0.9"/>
<line x1="496.3" y1="63.5" x2="502.7" y2="63.5" stroke="#ff0000" stroke-width="1.35" stroke-opacity="0.9"/>
<line x1="531.5" y1="65" x2="531.5" y2="58" stroke="#ff0000" stroke-width="1" stroke-dasharray="8 3.3 2 2.9" stroke-opacity="0.72"/>
<line x1="528.3" y1="58.5" x2="534.7" y2="58.5" stroke="#ff0000" stroke-width="1.35" stroke-opacity="0.9"/>
<line x1="528.3" y1="65.5" x2="534.7" y2="65.5" stroke="#ff0000" stroke-width="1.35" stroke-opacity="0.9"/>
<line x1="595.5" y1="67" x2="595.5" y2="59" stroke="#ff0000" stroke-width="1" stroke-dasharray="8 3.3 2 2.9" stroke-opacity="0.72"/>
<line x1="592.3" y1="58.5" x2="598.7" y2="58.5" stroke="#ff0000" stroke-width="1.35" stroke-opacity="0.9"/>
<line x1="592.3" y1="66.5" x2="598.7" y2="66.5" stroke="#ff0000" stroke-width="1.35" stroke-opacity="0.9"/>
<line x1="659.5" y1="66" x2="659.5" y2="54" stroke="#ff0000" stroke-width="1" stroke-dasharray="8 3.3 2 2.9" stroke-opacity="0.72"/>
<line x1="656.3" y1="54.5" x2="662.7" y2="54.5" stroke="#ff0000" stroke-width="1.35" stroke-opacity="0.9"/>
<line x1="656.3" y1="66.5" x2="662.7" y2="66.5" stroke="#ff0000" stroke-width="1.35" stroke-opacity="0.9"/>
<polyline points="403.6,61.2 435.63,60.6 451.65,60.4 467.66,60.4 499.69,60.4 531.72,61.6 595.78,62.6 659.84,60.2" fill="none" stroke="#ff0000" stroke-width="1" stroke-dasharray="8 3.3 2 2.9" stroke-opacity="0.72"/>
<line x1="425.5" y1="70" x2="425.5" y2="66" stroke="#0000ff" stroke-width="1" stroke-dasharray="2 2" stroke-opacity="0.72"/>
<line x1="422.3" y1="66.5" x2="428.7" y2="66.5" stroke="#0000ff" stroke-width="1.0" stroke-dasharray="2 1" stroke-opacity="0.8"/>
<line x1="422.3" y1="70.5" x2="428.7" y2="70.5" stroke="#0000ff" stroke-width="1.0" stroke-dasharray="2 1" stroke-opacity="0.8"/>
<line x1="441.5" y1="81" x2="441.5" y2="75" stroke="#0000ff" stroke-width="1" stroke-dasharray="2 2" stroke-opacity="0.72"/>
<line x1="438.3" y1="74.5" x2="444.7" y2="74.5" stroke="#0000ff" stroke-width="1.0" stroke-dasharray="2 1" stroke-opacity="0.8"/>
<line x1="438.3" y1="80.5" x2="444.7" y2="80.5" stroke="#0000ff" stroke-width="1.0" stroke-dasharray="2 1" stroke-opacity="0.8"/>
<line x1="457.5" y1="90" x2="457.5" y2="82" stroke="#0000ff" stroke-width="1" stroke-dasharray="2 2" stroke-opacity="0.72"/>
<line x1="454.3" y1="82.5" x2="460.7" y2="82.5" stroke="#0000ff" stroke-width="1.0" stroke-dasharray="2 1" stroke-opacity="0.8"/>
<line x1="454.3" y1="90.5" x2="460.7" y2="90.5" stroke="#0000ff" stroke-width="1.0" stroke-dasharray="2 1" stroke-opacity="0.8"/>
<line x1="489.5" y1="108" x2="489.5" y2="98" stroke="#0000ff" stroke-width="1" stroke-dasharray="2 2" stroke-opacity="0.72"/>
<line x1="486.3" y1="97.5" x2="492.7" y2="97.5" stroke="#0000ff" stroke-width="1.0" stroke-dasharray="2 1" stroke-opacity="0.8"/>
<line x1="486.3" y1="108.5" x2="492.7" y2="108.5" stroke="#0000ff" stroke-width="1.0" stroke-dasharray="2 1" stroke-opacity="0.8"/>
<line x1="521.5" y1="125" x2="521.5" y2="112" stroke="#0000ff" stroke-width="1" stroke-dasharray="2 2" stroke-opacity="0.72"/>
<line x1="518.3" y1="112.5" x2="524.7" y2="112.5" stroke="#0000ff" stroke-width="1.0" stroke-dasharray="2 1" stroke-opacity="0.8"/>
<line x1="518.3" y1="124.5" x2="524.7" y2="124.5" stroke="#0000ff" stroke-width="1.0" stroke-dasharray="2 1" stroke-opacity="0.8"/>
<line x1="585.5" y1="160" x2="585.5" y2="141" stroke="#0000ff" stroke-width="1" stroke-dasharray="2 2" stroke-opacity="0.72"/>
<line x1="582.3" y1="140.5" x2="588.7" y2="140.5" stroke="#0000ff" stroke-width="1.0" stroke-dasharray="2 1" stroke-opacity="0.8"/>
<line x1="582.3" y1="159.5" x2="588.7" y2="159.5" stroke="#0000ff" stroke-width="1.0" stroke-dasharray="2 1" stroke-opacity="0.8"/>
<line x1="649.5" y1="193" x2="649.5" y2="166" stroke="#0000ff" stroke-width="1" stroke-dasharray="2 2" stroke-opacity="0.72"/>
<line x1="646.3" y1="166.5" x2="652.7" y2="166.5" stroke="#0000ff" stroke-width="1.0" stroke-dasharray="2 1" stroke-opacity="0.8"/>
<line x1="646.3" y1="193.5" x2="652.7" y2="193.5" stroke="#0000ff" stroke-width="1.0" stroke-dasharray="2 1" stroke-opacity="0.8"/>
<polyline points="393.75,61.2 425.78,68.4 441.8,77.8 457.81,86.2 489.84,102.9 521.87,118.6 585.93,150.2 649.99,179.8" fill="none" stroke="#0000ff" stroke-width="1" stroke-dasharray="2 2" stroke-opacity="0.72"/>
<line x1="432.5" y1="74" x2="432.5" y2="67" stroke="#0000ff" stroke-width="1" stroke-dasharray="13 3" stroke-opacity="0.72"/>
<line x1="429.3" y1="67.5" x2="435.7" y2="67.5" stroke="#0000ff" stroke-width="1.0" stroke-opacity="0.8"/>
<line x1="429.3" y1="74.5" x2="435.7" y2="74.5" stroke="#0000ff" stroke-width="1.0" stroke-opacity="0.8"/>
<line x1="448.5" y1="83" x2="448.5" y2="74" stroke="#0000ff" stroke-width="1" stroke-dasharray="13 3" stroke-opacity="0.72"/>
<line x1="445.3" y1="74.5" x2="451.7" y2="74.5" stroke="#0000ff" stroke-width="1.0" stroke-opacity="0.8"/>
<line x1="445.3" y1="83.5" x2="451.7" y2="83.5" stroke="#0000ff" stroke-width="1.0" stroke-opacity="0.8"/>
<line x1="464.5" y1="93" x2="464.5" y2="83" stroke="#0000ff" stroke-width="1" stroke-dasharray="13 3" stroke-opacity="0.72"/>
<line x1="461.3" y1="82.5" x2="467.7" y2="82.5" stroke="#0000ff" stroke-width="1.0" stroke-opacity="0.8"/>
<line x1="461.3" y1="93.5" x2="467.7" y2="93.5" stroke="#0000ff" stroke-width="1.0" stroke-opacity="0.8"/>
<line x1="496.5" y1="111" x2="496.5" y2="98" stroke="#0000ff" stroke-width="1" stroke-dasharray="13 3" stroke-opacity="0.72"/>
<line x1="493.3" y1="97.5" x2="499.7" y2="97.5" stroke="#0000ff" stroke-width="1.0" stroke-opacity="0.8"/>
<line x1="493.3" y1="111.5" x2="499.7" y2="111.5" stroke="#0000ff" stroke-width="1.0" stroke-opacity="0.8"/>
<line x1="528.5" y1="130" x2="528.5" y2="112" stroke="#0000ff" stroke-width="1" stroke-dasharray="13 3" stroke-opacity="0.72"/>
<line x1="525.3" y1="112.5" x2="531.7" y2="112.5" stroke="#0000ff" stroke-width="1.0" stroke-opacity="0.8"/>
<line x1="525.3" y1="129.5" x2="531.7" y2="129.5" stroke="#0000ff" stroke-width="1.0" stroke-opacity="0.8"/>
<line x1="592.5" y1="164" x2="592.5" y2="139" stroke="#0000ff" stroke-width="1" stroke-dasharray="13 3" stroke-opacity="0.72"/>
<line x1="589.3" y1="138.5" x2="595.7" y2="138.5" stroke="#0000ff" stroke-width="1.0" stroke-opacity="0.8"/>
<line x1="589.3" y1="163.5" x2="595.7" y2="163.5" stroke="#0000ff" stroke-width="1.0" stroke-opacity="0.8"/>
<line x1="656.5" y1="195" x2="656.5" y2="165" stroke="#0000ff" stroke-width="1" stroke-dasharray="13 3" stroke-opacity="0.72"/>
<line x1="653.3" y1="165.5" x2="659.7" y2="165.5" stroke="#0000ff" stroke-width="1.0" stroke-opacity="0.8"/>
<line x1="653.3" y1="195.5" x2="659.7" y2="195.5" stroke="#0000ff" stroke-width="1.0" stroke-opacity="0.8"/>
<polyline points="400.4,61.2 432.43,70.6 448.44,78.7 464.46,88 496.49,104.6 528.52,121.1 592.58,151.2 656.64,180.1" fill="none" stroke="#0000ff" stroke-width="1" stroke-dasharray="13 3" stroke-opacity="0.72"/>
<polygon points="393.8,57.4 396.8,61.2 393.8,65 390.8,61.2" fill="#000000"/>
<polygon points="425.83,55.24 428.83,59.04 425.83,62.84 422.83,59.04" fill="#000000"/>
<polygon points="441.85,54.16 444.85,57.96 441.85,61.76 438.85,57.96" fill="#000000"/>
<polygon points="457.86,53.08 460.86,56.88 457.86,60.68 454.86,56.88" fill="#000000"/>
<polygon points="489.89,50.92 492.89,54.72 489.89,58.52 486.89,54.72" fill="#000000"/>
<polygon points="521.92,48.76 524.92,52.56 521.92,56.36 518.92,52.56" fill="#000000"/>
<polygon points="585.98,44.44 588.98,48.24 585.98,52.04 582.98,48.24" fill="#000000"/>
<polygon points="650.04,40.12 653.04,43.92 650.04,47.72 647.04,43.92" fill="#000000"/>
<rect x="396.5" y="58.5" width="5" height="5" fill="#fff" stroke="#a044b8" stroke-width="1.15"/>
<rect x="428.5" y="56.5" width="5" height="5" fill="#fff" stroke="#a044b8" stroke-width="1.15"/>
<rect x="444.5" y="55.5" width="5" height="5" fill="#fff" stroke="#a044b8" stroke-width="1.15"/>
<rect x="460.5" y="54.5" width="5" height="5" fill="#fff" stroke="#a044b8" stroke-width="1.15"/>
<rect x="492.5" y="52.5" width="5" height="5" fill="#fff" stroke="#a044b8" stroke-width="1.15"/>
<rect x="524.5" y="51.5" width="5" height="5" fill="#fff" stroke="#a044b8" stroke-width="1.15"/>
<rect x="588.5" y="47.5" width="5" height="5" fill="#fff" stroke="#a044b8" stroke-width="1.15"/>
<rect x="652.5" y="44.5" width="5" height="5" fill="#fff" stroke="#a044b8" stroke-width="1.15"/>
<circle cx="393.75" cy="61.2" r="2.6" fill="#fff" stroke="#0000ff" stroke-width="1"/>
<circle cx="425.78" cy="68.4" r="2.6" fill="#fff" stroke="#0000ff" stroke-width="1"/>
<circle cx="441.8" cy="77.8" r="2.6" fill="#fff" stroke="#0000ff" stroke-width="1"/>
<circle cx="457.81" cy="86.2" r="2.6" fill="#fff" stroke="#0000ff" stroke-width="1"/>
<circle cx="489.84" cy="102.9" r="2.6" fill="#fff" stroke="#0000ff" stroke-width="1"/>
<circle cx="521.87" cy="118.6" r="2.6" fill="#fff" stroke="#0000ff" stroke-width="1"/>
<circle cx="585.93" cy="150.2" r="2.6" fill="#fff" stroke="#0000ff" stroke-width="1"/>
<circle cx="649.99" cy="179.8" r="2.6" fill="#fff" stroke="#0000ff" stroke-width="1"/>
<circle cx="400.4" cy="61.2" r="3.0" fill="#0000ff"/>
<circle cx="432.43" cy="70.6" r="3.0" fill="#0000ff"/>
<circle cx="448.44" cy="78.7" r="3.0" fill="#0000ff"/>
<circle cx="464.46" cy="88" r="3.0" fill="#0000ff"/>
<circle cx="496.49" cy="104.6" r="3.0" fill="#0000ff"/>
<circle cx="528.52" cy="121.1" r="3.0" fill="#0000ff"/>
<circle cx="592.58" cy="151.2" r="3.0" fill="#0000ff"/>
<circle cx="656.64" cy="180.1" r="3.0" fill="#0000ff"/>
<polygon points="397.3,58.4 400,64 394.6,64" fill="#fff" stroke="#ff0000" stroke-width="1"/>
<polygon points="429.33,57.2 432.03,62.8 426.63,62.8" fill="#fff" stroke="#ff0000" stroke-width="1"/>
<polygon points="445.35,55.9 448.05,61.5 442.65,61.5" fill="#fff" stroke="#ff0000" stroke-width="1"/>
<polygon points="461.36,55.4 464.06,61 458.66,61" fill="#fff" stroke="#ff0000" stroke-width="1"/>
<polygon points="493.39,54.5 496.09,60.1 490.69,60.1" fill="#fff" stroke="#ff0000" stroke-width="1"/>
<polygon points="525.42,54.7 528.12,60.3 522.72,60.3" fill="#fff" stroke="#ff0000" stroke-width="1"/>
<polygon points="589.48,52.7 592.18,58.3 586.78,58.3" fill="#fff" stroke="#ff0000" stroke-width="1"/>
<polygon points="653.54,51.4 656.24,57 650.84,57" fill="#fff" stroke="#ff0000" stroke-width="1"/>
<polygon points="403.6,58.1 406.8,64.3 400.4,64.3" fill="#ff0000"/>
<polygon points="435.63,57.5 438.83,63.7 432.43,63.7" fill="#ff0000"/>
<polygon points="451.65,57.3 454.85,63.5 448.45,63.5" fill="#ff0000"/>
<polygon points="467.66,57.3 470.86,63.5 464.46,63.5" fill="#ff0000"/>
<polygon points="499.69,57.3 502.89,63.5 496.49,63.5" fill="#ff0000"/>
<polygon points="531.72,58.5 534.92,64.7 528.52,64.7" fill="#ff0000"/>
<polygon points="595.78,59.5 598.98,65.7 592.58,65.7" fill="#ff0000"/>
<polygon points="659.84,57.1 663.04,63.3 656.64,63.3" fill="#ff0000"/>
<line x1="384.5" y1="3" x2="384.5" y2="226.4" stroke="#a9a9a9" stroke-width="1"/>
<line x1="384" y1="226.4" x2="669.5" y2="226.4" stroke="#a9a9a9" stroke-width="1"/>
<line x1="380" y1="8.2" x2="384.5" y2="8.2" stroke="#a9a9a9" stroke-width="1"/>
<text x="377.7" y="11.6" font-size="9.3" text-anchor="end" fill="#1e1e1e">0.1</text>
<line x1="380" y1="61.2" x2="384.5" y2="61.2" stroke="#a9a9a9" stroke-width="1"/>
<text x="377.7" y="64.6" font-size="9.3" text-anchor="end" fill="#1e1e1e">0.0</text>
<line x1="380" y1="114.2" x2="384.5" y2="114.2" stroke="#a9a9a9" stroke-width="1"/>
<text x="377.7" y="117.6" font-size="9.3" text-anchor="end" fill="#1e1e1e">-0.1</text>
<line x1="380" y1="167.2" x2="384.5" y2="167.2" stroke="#a9a9a9" stroke-width="1"/>
<text x="377.7" y="170.6" font-size="9.3" text-anchor="end" fill="#1e1e1e">-0.2</text>
<line x1="380" y1="220.2" x2="384.5" y2="220.2" stroke="#a9a9a9" stroke-width="1"/>
<text x="377.7" y="223.6" font-size="9.3" text-anchor="end" fill="#1e1e1e">-0.3</text>
<line x1="399" y1="226.4" x2="399" y2="230.8" stroke="#a9a9a9" stroke-width="1"/>
<text x="399" y="243.1" font-size="9.3" text-anchor="middle" fill="#1e1e1e">0</text>
<line x1="463.06" y1="226.4" x2="463.06" y2="230.8" stroke="#a9a9a9" stroke-width="1"/>
<text x="463.06" y="243.1" font-size="9.3" text-anchor="middle" fill="#1e1e1e">2</text>
<line x1="527.12" y1="226.4" x2="527.12" y2="230.8" stroke="#a9a9a9" stroke-width="1"/>
<text x="527.12" y="243.1" font-size="9.3" text-anchor="middle" fill="#1e1e1e">4</text>
<line x1="591.18" y1="226.4" x2="591.18" y2="230.8" stroke="#a9a9a9" stroke-width="1"/>
<text x="591.18" y="243.1" font-size="9.3" text-anchor="middle" fill="#1e1e1e">6</text>
<line x1="655.24" y1="226.4" x2="655.24" y2="230.8" stroke="#a9a9a9" stroke-width="1"/>
<text x="655.24" y="243.1" font-size="9.3" text-anchor="middle" fill="#1e1e1e">8</text>
<text x="527" y="263.7" font-size="10.9" text-anchor="middle" fill="#1e1e1e">Time after dose (hours)</text>
<text x="350.6" y="257.9" font-size="12.3" text-anchor="start" fill="#1e1e1e" letter-spacing="0.6">(b)</text>
<text transform="translate(347.2,113.8) rotate(-90)" font-size="11.45" text-anchor="middle" fill="#1e1e1e">Mean Cumulative WBA (&#916;log<tspan font-size="5.3" dx="0.7" dy="-0.4" letter-spacing="0.5">10</tspan><tspan dx="0.5" dy="0.4">CFU)</tspan></text>
<rect x="59.6" y="273.8" width="227.6" height="44.4" fill="none" stroke="#b9b9b9" stroke-width="1"/>
<line x1="63" y1="289.5" x2="128" y2="289.5" stroke="#a044b8" stroke-width="1" stroke-opacity="0.72"/>
<rect x="92.5" y="286.5" width="6" height="6" fill="#fff" stroke="#a044b8" stroke-width="1"/>
<text x="132.3" y="292.6" font-size="9.45" text-anchor="start" fill="#1e1e1e">C alone</text>
<line x1="63" y1="301.2" x2="128" y2="301.2" stroke="#ff0000" stroke-width="1" stroke-dasharray="8 3.3 2 2.9" stroke-opacity="0.72"/>
<polygon points="95.5,297.5 99.2,304.9 91.8,304.9" fill="#ff0000"/>
<text x="132.3" y="303.9" font-size="9.45" text-anchor="start" fill="#1e1e1e">PZA+C</text>
<line x1="63" y1="312.5" x2="128" y2="312.5" stroke="#0000ff" stroke-width="1" stroke-dasharray="13 3" stroke-opacity="0.72"/>
<circle cx="95.5" cy="312.5" r="3.4" fill="#0000ff"/>
<text x="132.3" y="315.2" font-size="9.45" text-anchor="start" fill="#1e1e1e">RIF+C</text>
<line x1="170.9" y1="289.5" x2="236.5" y2="289.5" stroke="#ff0000" stroke-width="1" stroke-dasharray="1 1" stroke-opacity="0.42"/>
<polygon points="203.8,286.2 207.1,292.8 200.5,292.8" fill="#fff" stroke="#ff0000" stroke-width="1"/>
<text x="240.3" y="292.6" font-size="9.45" text-anchor="start" fill="#1e1e1e">PZA alone</text>
<line x1="170.9" y1="301.2" x2="236.5" y2="301.2" stroke="#0000ff" stroke-width="1" stroke-dasharray="2 2" stroke-opacity="0.72"/>
<circle cx="203.8" cy="301.2" r="2.9" fill="#fff" stroke="#0000ff" stroke-width="1"/>
<text x="240.3" y="303.9" font-size="9.45" text-anchor="start" fill="#1e1e1e">RIF alone</text>
<rect x="371.3" y="273.8" width="311.2" height="44.4" fill="none" stroke="#b9b9b9" stroke-width="1"/>
<line x1="374.9" y1="289.5" x2="439.4" y2="289.5" stroke="#a044b8" stroke-width="1" stroke-opacity="0.72"/>
<rect x="404.3" y="286.5" width="6" height="6" fill="#fff" stroke="#a044b8" stroke-width="1"/>
<text x="443.6" y="292.6" font-size="9.45" text-anchor="start" fill="#1e1e1e">C alone</text>
<line x1="374.9" y1="301.2" x2="439.4" y2="301.2" stroke="#ff0000" stroke-width="1" stroke-dasharray="1 1" stroke-opacity="0.42"/>
<polygon points="407.3,297.9 410.6,304.5 404,304.5" fill="#fff" stroke="#ff0000" stroke-width="1"/>
<text x="443.6" y="303.9" font-size="9.45" text-anchor="start" fill="#1e1e1e">PZA alone</text>
<line x1="374.9" y1="312.5" x2="439.4" y2="312.5" stroke="#0000ff" stroke-width="1" stroke-dasharray="2 2" stroke-opacity="0.72"/>
<circle cx="407.3" cy="312.5" r="2.9" fill="#fff" stroke="#0000ff" stroke-width="1"/>
<text x="443.6" y="315.2" font-size="9.45" text-anchor="start" fill="#1e1e1e">RIF alone</text>
<line x1="493.8" y1="289.5" x2="557" y2="289.5" stroke="#3c3c3c" stroke-width="1" stroke-dasharray="4.7 3.5" stroke-opacity="0.72"/>
<polygon points="527,285 531.1,289.5 527,294 522.9,289.5" fill="#000000"/>
<text x="563.5" y="292.6" font-size="9.45" text-anchor="start" fill="#1e1e1e">Without drug (extrapolated)</text>
<line x1="493.8" y1="301.2" x2="557" y2="301.2" stroke="#ff0000" stroke-width="1" stroke-dasharray="8 3.3 2 2.9" stroke-opacity="0.72"/>
<polygon points="527,297.5 530.7,304.9 523.3,304.9" fill="#ff0000"/>
<text x="563.5" y="303.9" font-size="9.45" text-anchor="start" fill="#1e1e1e">PZA+C</text>
<line x1="493.8" y1="312.5" x2="557" y2="312.5" stroke="#0000ff" stroke-width="1" stroke-dasharray="13 3" stroke-opacity="0.72"/>
<circle cx="527" cy="312.5" r="3.4" fill="#0000ff"/>
<text x="563.5" y="315.2" font-size="9.45" text-anchor="start" fill="#1e1e1e">RIF+C</text>
</svg>
</body></html>
